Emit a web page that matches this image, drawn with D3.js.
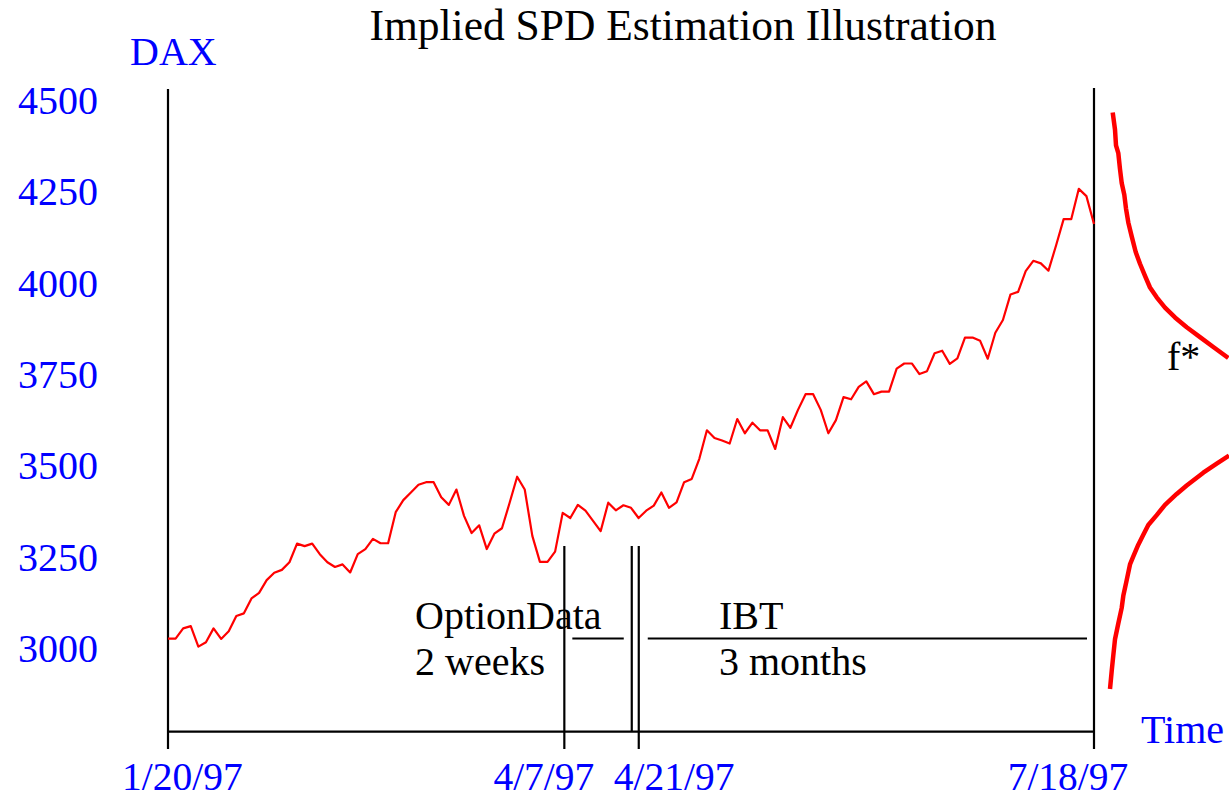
<!DOCTYPE html>
<html><head><meta charset="utf-8">
<script src="https://cdn.jsdelivr.net/npm/d3@7"></script>
<style>
body{margin:0;background:#fff}
svg{display:block}
text{font-family:"Liberation Serif","Times New Roman",Times,serif}
</style>
</head><body>
<svg id="c" width="1229" height="800"></svg>
<script>
// ---------------- data ----------------
const title = "Implied SPD Estimation Illustration";
const daxValues = [
3034,3034,3062,3068,3012,3024,3062,3033,3054,3096,
3103,3144,3159,3194,3214,3222,3243,3294,3287,3294,
3265,3243,3230,3237,3215,3265,3279,3307,3295,3295,
3380,3413,3434,3455,3462,3462,3421,3400,3442,3370,
3323,3344,3279,3321,3336,3405,3477,3442,3315,3244,
3244,3272,3378,3364,3400,3384,3356,3328,3406,3385,
3399,3392,3364,3384,3398,3434,3392,3407,3462,3471,
3526,3604,3583,3576,3568,3635,3596,3625,3604,3604,
3553,3640,3611,3660,3703,3703,3660,3596,3632,3695,
3689,3723,3738,3703,3710,3710,3773,3787,3787,3758,
3766,3815,3822,3786,3801,3858,3858,3849,3800,3871,
3906,3976,3983,4040,4068,4061,4041,4110,4182,4182,
4265,4245,4169];
const yTicks = [3000, 3250, 3500, 3750, 4000, 4250, 4500];
const dateTicks = ["1/20/97", "4/7/97", "4/21/97", "7/18/97"];
const startDate = "1/20/97", endDate = "7/18/97";
// implied state price density f* (DAX level, relative density)
const spdUpperLevel   = [4474,4427,4384,4363,4319,4281,4249,4211,4173,4135,4092,4060,4027,3995,3968,3940,3913,3886,3859,3832,3802];
const spdUpperDensity = [12.7,15,16,18.3,20,21.7,24.3,26,28.3,31.7,35.7,40,45,50,56.7,65,75,86.7,100,113.3,128.3];
const spdLowerLevel   = [3535,3513,3488,3453,3430,3400,3372,3345,3318,3291,3259,3237,3194,3151,3118,3075,3032,2988,2945,2896];
const spdLowerDensity = [129,116.7,103.3,86.7,76.7,65,56.7,48.3,43.3,38.3,33.3,30,26.7,23.3,21.7,18.3,15,13.3,11.7,10];
const periodLabels = [["OptionData", "2 weeks"], ["IBT", "3 months"]];
const periodDates = [["4/7/97", "4/21/97"], ["4/21/97", "7/18/97"]];
const yAxisLabel = "DAX", xAxisLabel = "Time", spdLabel = "f*";

// ---------------- layout ----------------
const parse = d3.timeParse("%m/%d/%y");
const svg = d3.select("#c");
const blue = "#0000ff", red = "#ff0000";
const xLeft = 168, xRight = 1094, axisY = 731.7, tickBottom = 749, fs = 40;

const xTime = d3.scaleTime().domain([parse(startDate), parse(endDate)]).range([xLeft, xRight]);
const xIdx = d3.scaleLinear().domain([0, daxValues.length - 1]).range([xLeft, xRight]);
const y = d3.scaleLinear().domain([3000, 4500]).range([651, 103]);
const xDen = d3.scaleLinear().domain([0, 100]).range([1100, 1200]);

// title
svg.append("text").attr("x", 683).attr("y", 40).attr("text-anchor", "middle")
  .attr("font-size", 43.5).attr("fill", "#000").text(title);

// y labels
svg.append("text").attr("x", 130).attr("y", 65).attr("font-size", fs).attr("fill", blue).text(yAxisLabel);
svg.selectAll(".yt").data(yTicks).join("text")
  .attr("x", 98).attr("y", d => y(d) + 11).attr("text-anchor", "end")
  .attr("font-size", fs).attr("fill", blue).text(d => d);

// axes
const ax = svg.append("g").attr("stroke", "#000").attr("stroke-width", 2.2);
ax.append("line").attr("x1", xLeft).attr("x2", xLeft).attr("y1", 89).attr("y2", tickBottom);
ax.append("line").attr("x1", xRight).attr("x2", xRight).attr("y1", 88).attr("y2", tickBottom);
ax.append("line").attr("x1", xLeft).attr("x2", xRight).attr("y1", axisY).attr("y2", axisY);

// period markers
const d47 = parse(periodDates[0][0]), d421 = parse(periodDates[1][0]);
const xa = xTime(d47) - 2, xb = xTime(d421);
ax.append("line").attr("x1", xa).attr("x2", xa).attr("y1", 546).attr("y2", tickBottom);
ax.append("line").attr("x1", xb).attr("x2", xb).attr("y1", 546).attr("y2", tickBottom);
ax.append("line").attr("x1", xb - 7).attr("x2", xb - 7).attr("y1", 546).attr("y2", axisY);
const segY = 638.5;
ax.append("line").attr("x1", xa + 8).attr("x2", xb - 15).attr("y1", segY).attr("y2", segY);
ax.append("line").attr("x1", xb + 9).attr("x2", xRight - 7).attr("y1", segY).attr("y2", segY);

svg.append("text").attr("x", 415).attr("y", 629).attr("font-size", fs).text(periodLabels[0][0]);
svg.append("text").attr("x", 415).attr("y", 675).attr("font-size", fs).text(periodLabels[0][1]);
svg.append("text").attr("x", 719).attr("y", 629).attr("font-size", fs).text(periodLabels[1][0]);
svg.append("text").attr("x", 719).attr("y", 675).attr("font-size", fs).text(periodLabels[1][1]);

// date labels
const dateAnchor = {"1/20/97": ["start", -46], "4/7/97": ["end", 28], "4/21/97": ["start", -25], "7/18/97": ["middle", -26]};
svg.selectAll(".dt").data(dateTicks).join("text")
  .attr("x", d => xTime(parse(d)) + dateAnchor[d][1]).attr("y", 790)
  .attr("text-anchor", d => dateAnchor[d][0])
  .attr("font-size", 39.5).attr("fill", blue).text(d => d);

svg.append("text").attr("x", 1141).attr("y", 743).attr("font-size", fs).attr("fill", blue).text(xAxisLabel);

// DAX line
svg.append("path").datum(daxValues)
  .attr("fill", "none").attr("stroke", red).attr("stroke-width", 2.2).attr("stroke-linejoin", "round")
  .attr("d", d3.line().x((d, i) => xIdx(i)).y(d => y(d)));

// SPD
const spdLine = d3.line().x(d => xDen(d[1])).y(d => y(d[0]));
[[spdUpperLevel, spdUpperDensity], [spdLowerLevel, spdLowerDensity]].forEach(([lv, dn]) => {
  svg.append("path").datum(lv.map((v, i) => [v, dn[i]]))
    .attr("fill", "none").attr("stroke", red).attr("stroke-width", 4.5).attr("stroke-linejoin", "round")
    .attr("d", spdLine);
});
svg.append("text").attr("x", 1167).attr("y", 370).attr("font-size", fs).text(spdLabel);
</script>
</body></html>
